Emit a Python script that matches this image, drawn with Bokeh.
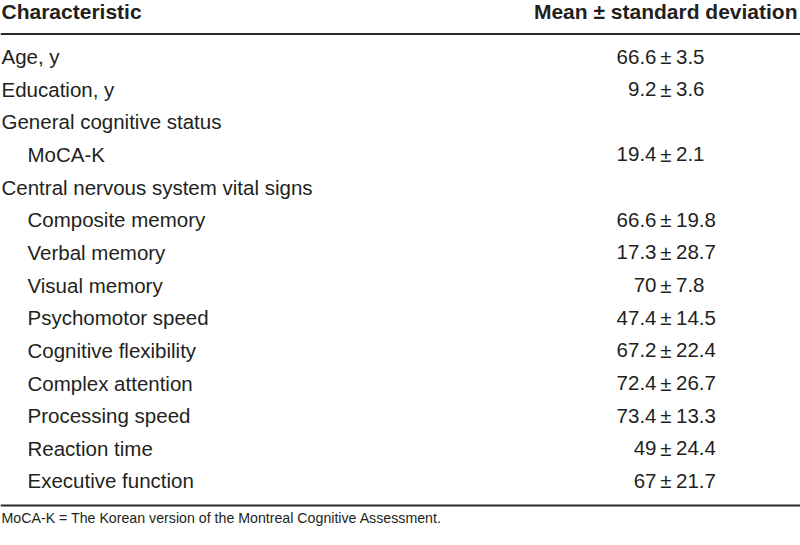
from bokeh.plotting import figure
from bokeh.models import ColumnDataSource, Range1d
from bokeh.core.properties import value
from bokeh.embed import file_html
from bokeh.resources import INLINE

# ---- data ----
labels = ["Age, y", "Education, y", "General cognitive status", "MoCA-K",
          "Central nervous system vital signs", "Composite memory", "Verbal memory",
          "Visual memory", "Psychomotor speed", "Cognitive flexibility",
          "Complex attention", "Processing speed", "Reaction time", "Executive function"]
levels = [0, 0, 0, 1, 0, 1, 1, 1, 1, 1, 1, 1, 1, 1]
means = ["66.6", "9.2", "", "19.4", "", "66.6", "17.3", "70", "47.4", "67.2",
         "72.4", "73.4", "49", "67"]
sds = ["3.5", "3.6", "", "2.1", "", "19.8", "28.7", "7.8", "14.5", "22.4",
       "26.7", "13.3", "24.4", "21.7"]
col_headers = ["Characteristic", "Mean \u00b1 standard deviation"]
footnote = "MoCA-K = The Korean version of the Montreal Cognitive Assessment."

# ---- layout (reference pixel space 800 x 545) ----
W, H = 800, 545
FONT = "Liberation Sans"
INK = "#231f20"
row0, step = 56.0, 32.65
ys = [row0 + step * i for i in range(len(labels))]
xs = [1 + 26 * lv for lv in levels]
pm = ["\u00b1" if m else "" for m in means]

src = ColumnDataSource(dict(x=xs, y=ys, label=labels, mean=means, sd=sds, pm=pm))

p = figure(width=W, height=H, output_backend="svg", toolbar_location=None,
           x_range=Range1d(0, 800), y_range=Range1d(545, 0),
           x_axis_type=None, y_axis_type=None, min_border=0,
           background_fill_color="white", border_fill_color="white")
p.grid.visible = False
p.outline_line_color = None

# header
p.text(x=[1], y=[11], text=[col_headers[0]], text_font=value(FONT),
       text_font_style="bold", text_font_size="21px", text_color=INK,
       text_baseline="alphabetic", text_align="left")
p.text(x=[797], y=[11], text=[col_headers[1]], text_font=value(FONT),
       text_font_style="bold", text_font_size="21px", text_color=INK,
       text_baseline="alphabetic", text_align="right")

# rules
p.segment(x0=[0, 0], y0=[33.5, 505], x1=[800, 800], y1=[33.5, 505],
          line_color="#2a2a2a", line_width=2)

# body
common = dict(source=src, text_font=value(FONT), text_font_size="20.5px",
              text_color=INK, text_baseline="alphabetic")
p.text(x="x", y="y", text="label", text_align="left", **common)
p.text(x=656, y="y", text="mean", text_align="right", **common)
p.text(x=665.5, y="y", text="pm", text_align="center", **common)
p.text(x=675.5, y="y", text="sd", text_align="left", **common)

# footnote
p.text(x=[1], y=[517.5], text=[footnote], text_font=value(FONT),
       text_font_size="14.2px", text_color=INK, text_baseline="alphabetic",
       text_align="left")

open("out.html", "w").write(file_html(p, INLINE))
